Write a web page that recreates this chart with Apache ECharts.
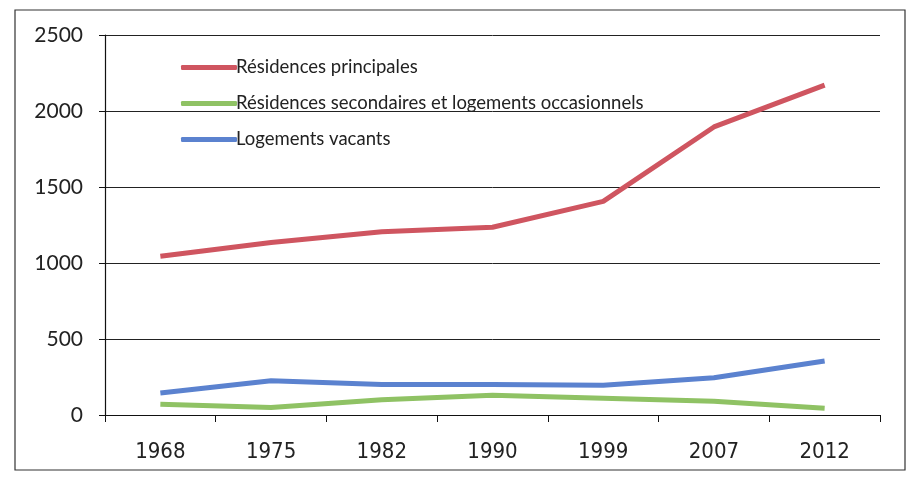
<!DOCTYPE html>
<html><head><meta charset="utf-8">
<script src="https://cdn.jsdelivr.net/npm/echarts@6/dist/echarts.min.js"></script>
<style>html,body{margin:0;padding:0;background:#fff}#c{width:914px;height:478px}</style>
</head><body><div id="c"></div>
<script>
const categories = ['1968','1975','1982','1990','1999','2007','2012'];
const principales = [1045, 1135, 1205, 1235, 1405, 1895, 2170];
const secondaires = [70, 50, 100, 130, 110, 90, 45];
const vacants = [145, 225, 200, 200, 195, 245, 355];
const yTicks = [0, 500, 1000, 1500, 2000, 2500];
const names = ['Résidences principales', 'Résidences secondaires et logements occasionnels', 'Logements vacants'];
const colors = ['#cf5560', '#8fc264', '#5b82cf'];

const chart = echarts.init(document.getElementById('c'));
const font = 'Lato, "Open Sans", sans-serif';
chart.setOption({
  animation: false,
  color: colors,
  graphic: [{type:'rect', shape:{x:15,y:10,width:890,height:460}, style:{fill:'none', stroke:'#333', lineWidth:1.2}}],
  grid: {left:105, right:34, top:35, bottom:63},
  legend: {
    orient:'vertical', left:176, top:53, itemWidth:56, itemHeight:5, itemGap:17,
    icon:'roundRect',
    textStyle:{fontFamily:font, fontSize:18.5, color:'#222', padding:[0,0,0,-6]},
    data: names
  },
  xAxis: {
    type:'category', data:categories, boundaryGap:true,
    axisLine:{lineStyle:{color:'#111', width:1.2}},
    axisTick:{show:true, length:7, lineStyle:{color:'#111'}},
    axisLabel:{fontFamily:'"Liberation Sans Narrow", "DejaVu Sans Condensed", sans-serif', fontSize:22, color:'#222', margin:26}
  },
  yAxis: {
    type:'value', min:yTicks[0], max:yTicks[yTicks.length-1], interval:500,
    axisLine:{show:true, lineStyle:{color:'#111', width:1.2}},
    axisTick:{show:true, length:6, lineStyle:{color:'#111'}},
    axisLabel:{fontFamily:font, fontSize:21, color:'#222', margin:22, formatter: v => String(v)},
    splitLine:{lineStyle:{color:'#222', width:1}}
  },
  series: [
    {name:names[0], type:'line', data:principales, symbol:'none', lineStyle:{width:5}},
    {name:names[1], type:'line', data:secondaires, symbol:'none', lineStyle:{width:5}},
    {name:names[2], type:'line', data:vacants, symbol:'none', lineStyle:{width:5}}
  ]
});
</script></body></html>
